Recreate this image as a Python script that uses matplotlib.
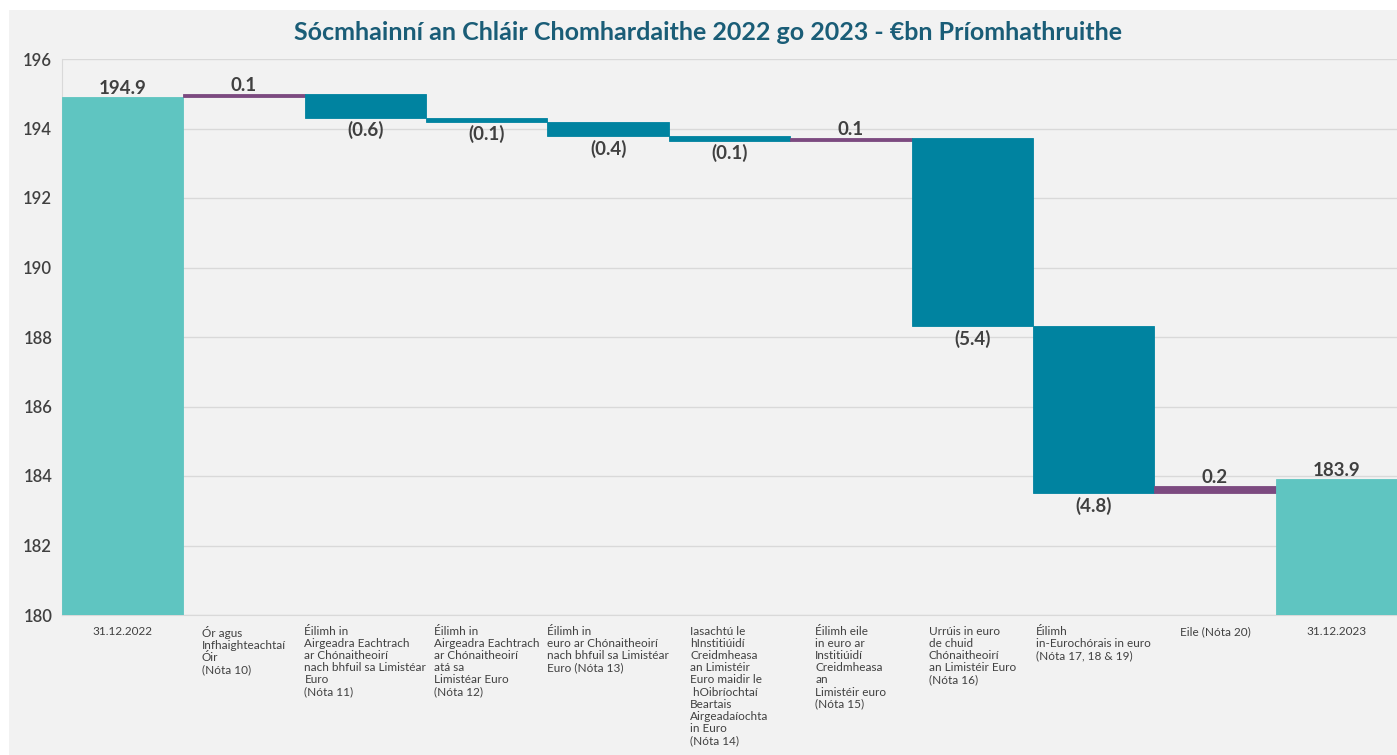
import matplotlib
matplotlib.use('Agg')
import matplotlib.pyplot as plt
from matplotlib.patches import Rectangle
import numpy as np

plt.rcParams['font.family'] = ['Lato', 'DejaVu Sans']

# dáta
catagoir = [
    '31.12.2022',
    'Ór agus\nInfhaighteachtaí\nÓir\n(Nóta 10)',
    'Éilimh in\nAirgeadra Eachtrach\nar Chónaitheoirí\nnach bhfuil sa Limistéar\nEuro\n(Nóta 11)',
    'Éilimh in\nAirgeadra Eachtrach\nar Chónaitheoirí\natá sa\nLimistéar Euro\n(Nóta 12)',
    'Éilimh in\neuro ar Chónaitheoirí\nnach bhfuil sa Limistéar\nEuro (Nóta 13)',
    'Iasachtú le\nhInstitiúidí\nCreidmheasa\nan Limistéir\nEuro maidir le\n hOibríochtaí\nBeartais\nAirgeadaíochta\nin Euro\n(Nóta 14)',
    'Éilimh eile\nin euro ar\nInstitiúidí\nCreidmheasa\nan\nLimistéir euro\n(Nóta 15)',
    'Urrúis in euro\nde chuid\nChónaitheoirí\nan Limistéir Euro\n(Nóta 16)',
    'Éilimh\nin-Eurochórais in euro\n(Nóta 17, 18 & 19)',
    'Eile (Nóta 20)',
    '31.12.2023',
]
tosach = 194.9
athruithe = [0.08, -0.67, -0.11, -0.42, -0.13, 0.08, -5.42, -4.81, 0.22]
deireadh = 183.9
lipeid = ['194.9', '0.1', '(0.6)', '(0.1)', '(0.4)', '(0.1)', '0.1', '(5.4)', '(4.8)', '0.2', '183.9']

dath_iomlan = '#5fc5c1'
dath_laghdu = '#0083a0'
dath_meadu = '#7c4a80'
dath_teacs = '#404040'

fig = plt.figure(figsize=(13.97, 7.55), dpi=100)
fig.patch.set_facecolor('white')
cul = Rectangle((9 / 1397, 0), 1, 1 - 10 / 755, transform=fig.transFigure,
                facecolor='#f2f2f2', edgecolor='none', zorder=-10)
fig.add_artist(cul)

ax = fig.add_axes([62 / 1397, 1 - 615 / 755, 1 - 62 / 1397, (615 - 59) / 755])
ax.set_facecolor('none')

x = np.arange(len(catagoir))
barr = []
bun = []
dathanna = []
barr.append(tosach)
bun.append(0)
dathanna.append(dath_iomlan)
leibheal = tosach
for d in athruithe:
    nua = leibheal + d
    bun.append(min(leibheal, nua))
    barr.append(max(leibheal, nua))
    dathanna.append(dath_meadu if d > 0 else dath_laghdu)
    leibheal = nua
barr.append(deireadh)
bun.append(0)
dathanna.append(dath_iomlan)

airde = np.array(barr) - np.array(bun)
ax.bar(x, airde, bottom=bun, width=1.0, color=dathanna, edgecolor=dathanna,
       linewidth=0.6, zorder=3)

for i, lbl in enumerate(lipeid):
    suas = i == 0 or i == len(lipeid) - 1 or athruithe[i - 1] > 0
    if suas:
        ax.annotate(lbl, (x[i], barr[i]), xytext=(0, 0), textcoords='offset points',
                    ha='center', va='bottom', fontsize=13.5, fontweight='bold', color=dath_teacs)
    else:
        ax.annotate(lbl, (x[i], bun[i]), xytext=(0, -2.5), textcoords='offset points',
                    ha='center', va='top', fontsize=13.5, fontweight='bold', color=dath_teacs)

ax.set_xlim(-0.5, len(catagoir) - 0.5)
ax.set_ylim(180, 196)
ax.set_yticks(np.arange(180, 197, 2))
ax.yaxis.grid(True, color='#d9d9d9', linewidth=1, zorder=0)
ax.set_axisbelow(True)
for s in ['top', 'right']:
    ax.spines[s].set_visible(False)
ax.spines['left'].set_color('#d9d9d9')
ax.spines['bottom'].set_color('#d9d9d9')
ax.tick_params(axis='y', length=0, pad=7, labelsize=12, labelcolor=dath_teacs)
for t in ax.get_yticklabels():
    t.set_fontweight('semibold')
ax.set_xticks(x)
ax.set_xticklabels(catagoir, fontsize=8.5, color=dath_teacs, linespacing=1.12)
ax.tick_params(axis='x', length=0, pad=8)
for t in ax.get_xticklabels():
    t.set_multialignment('left')

fig.text(0.507, 1 - 32 / 755, 'Sócmhainní an Chláir Chomhardaithe 2022 go 2023 - €bn Príomhathruithe',
         ha='center', va='center', fontsize=18, fontweight='bold', color='#1a5d77')

fig.savefig('out.png', dpi=100)
